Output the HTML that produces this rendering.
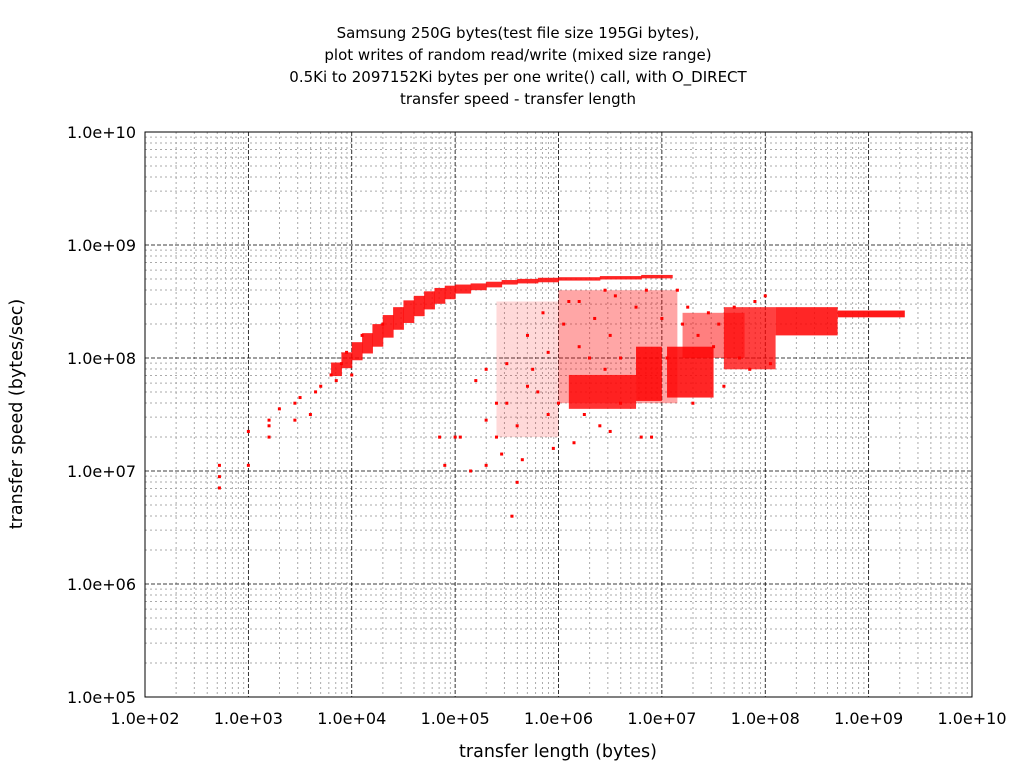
<!DOCTYPE html>
<html><head><meta charset="utf-8"><style>
body{margin:0;background:#fff;font-family:"DejaVu Sans","Liberation Sans",sans-serif;}
svg text{font-family:"DejaVu Sans","Liberation Sans",sans-serif;fill:#000;}
</style></head><body>
<svg id="chart" width="1024" height="768" xmlns="http://www.w3.org/2000/svg">
<g font-size="15" text-anchor="middle">
<text x="518" y="38">Samsung 250G bytes(test file size 195Gi bytes),</text>
<text x="518" y="60">plot writes of random read/write (mixed size range)</text>
<text x="518" y="82">0.5Ki to 2097152Ki bytes per one write() call, with O_DIRECT</text>
<text x="518" y="104">transfer speed - transfer length</text>
</g>
<g id="grid"></g>
<g id="marks"></g>
<rect x="145" y="132" width="827" height="565" fill="none" stroke="#000" stroke-width="1"/>
<g id="ticks" font-size="16"></g>
<text x="558" y="757" font-size="17.5" text-anchor="middle">transfer length (bytes)</text>
<text transform="translate(22,414) rotate(-90)" font-size="17.5" text-anchor="middle">transfer speed (bytes/sec)</text>
</svg>
<script>
const xTickLabels=["1.0e+02","1.0e+03","1.0e+04","1.0e+05","1.0e+06","1.0e+07","1.0e+08","1.0e+09","1.0e+10"];
const yTickLabels=["1.0e+05","1.0e+06","1.0e+07","1.0e+08","1.0e+09","1.0e+10"];
// upper band: segment start/end (log10 length), centre and half-thickness (log10 speed)
const bandX0=[3.8,3.9,4.0,4.1,4.2,4.3,4.4,4.5,4.6,4.7,4.8,4.9,5.0,5.15,5.3,5.45,5.6,5.8,6.0,6.4,6.8];
const bandX1=[3.9,4.0,4.1,4.2,4.3,4.4,4.5,4.6,4.7,4.8,4.9,5.0,5.15,5.3,5.45,5.6,5.8,6.0,6.4,6.8,7.1];
const bandC=[7.9,7.98,8.06,8.13,8.2,8.28,8.35,8.41,8.46,8.51,8.55,8.58,8.61,8.63,8.65,8.67,8.68,8.69,8.7,8.71,8.72];
const bandH=[0.06,0.07,0.08,0.09,0.1,0.1,0.1,0.1,0.09,0.08,0.07,0.06,0.04,0.03,0.025,0.02,0.02,0.02,0.015,0.015,0.015];
// dense regions (log10 units) and density
const blobX0=[5.4,6.0,6.1,6.75,7.05,7.2,7.6,8.1,8.7];
const blobX1=[6.0,7.15,6.75,7.0,7.5,7.8,8.1,8.7,9.35];
const blobY0=[7.3,7.6,7.55,7.62,7.65,8.0,7.9,8.2,8.36];
const blobY1=[8.5,8.6,7.85,8.1,8.1,8.4,8.45,8.45,8.42];
const blobDensity=[0.15,0.35,0.8,0.85,0.85,0.5,0.75,0.85,0.9];
// sparse points (log10 length, log10 speed)
const ptX=[2.72,2.72,2.72,3.0,3.0,3.2,3.2,3.2,3.3,3.45,3.45,3.5,3.6,3.65,3.7,3.8,3.85,3.9,4.0,3.95,4.1,4.3,5.0,5.05,5.15,5.3,5.55,5.6,5.4,5.4,5.5,5.6,5.7,5.75,5.8,5.9,5.95,6.0,5.9,6.05,6.1,6.2,6.25,6.3,6.35,6.4,6.45,6.5,6.55,6.6,6.6,6.75,6.8,6.85,7.0,7.05,7.15,7.2,7.25,7.3,7.35,7.45,7.5,7.55,7.6,7.7,7.75,7.85,7.9,8.0,8.05,5.2,5.3,5.5,5.7,5.85,6.15,6.5,5.65,6.9,6.2,6.45,4.85,4.9,5.3,5.45];
const ptY=[7.05,6.85,6.95,7.05,7.35,7.3,7.45,7.4,7.55,7.45,7.6,7.65,7.5,7.7,7.75,7.85,7.8,7.95,7.85,8.05,8.2,8.3,7.3,7.3,7.0,7.05,6.6,6.9,7.3,7.6,7.6,7.4,7.75,7.9,7.7,7.5,7.2,7.6,8.05,8.3,8.5,8.1,7.5,8.0,8.35,7.4,7.9,8.2,8.55,7.6,8.0,8.45,7.3,8.6,8.35,8.0,8.6,8.3,8.45,7.6,8.2,8.4,8.1,8.3,7.75,8.45,8.0,7.9,8.5,8.55,7.95,7.8,7.9,7.95,8.2,8.4,7.25,7.35,7.1,7.3,8.5,8.6,7.3,7.05,7.45,7.15];
const L=145,R=972,T=132,B=697;
const sx=l=>L+(l-2)/8*(R-L);
const sy=l=>B-(l-5)/5*(B-T);
const NS="http://www.w3.org/2000/svg";
function mk(tag,attrs,parent){const e=document.createElementNS(NS,tag);for(const k in attrs)e.setAttribute(k,attrs[k]);parent.appendChild(e);return e;}
const grid=document.getElementById('grid'),ticks=document.getElementById('ticks'),marks=document.getElementById('marks');
for(let d=2;d<10;d++){for(let m=2;m<10;m++){const x=sx(d+Math.log10(m));
const g=mk('line',{x1:x,x2:x,y1:T,y2:B,stroke:'#aaa','stroke-dasharray':'2,3'},grid);

}}
for(let d=5;d<10;d++){for(let m=2;m<10;m++){const y=sy(d+Math.log10(m));
const g=mk('line',{x1:L,x2:R,y1:y,y2:y,stroke:'#aaa','stroke-dasharray':'2,3'},grid);

}}
xTickLabels.forEach((t,i)=>{const x=sx(2+i);
const g=mk('line',{x1:x,x2:x,y1:T,y2:B,stroke:'#000','stroke-dasharray':'4,2','stroke-width':0.8},grid);


const tx=mk('text',{x:x,y:724,'text-anchor':'middle'},ticks);tx.textContent=t;

});
yTickLabels.forEach((t,i)=>{const y=sy(5+i);
const g=mk('line',{x1:L,x2:R,y1:y,y2:y,stroke:'#000','stroke-dasharray':'4,2','stroke-width':0.8},grid);


const tx=mk('text',{x:136,y:y+6,'text-anchor':'end'},ticks);tx.textContent=t;

});
bandX0.forEach((x0,i)=>{const r=mk('rect',{x:sx(x0),y:sy(bandC[i]+bandH[i]),width:sx(bandX1[i])-sx(x0)+0.5,height:sy(bandC[i]-bandH[i])-sy(bandC[i]+bandH[i]),fill:'#f00','fill-opacity':0.85},marks);

});
blobX0.forEach((x0,i)=>{const r=mk('rect',{x:sx(x0),y:sy(blobY1[i]),width:sx(blobX1[i])-sx(x0),height:sy(blobY0[i])-sy(blobY1[i]),fill:'#f00','fill-opacity':blobDensity[i]},marks);

});
ptX.forEach((x,i)=>{const p=mk('rect',{x:sx(x)-1.5,y:sy(ptY[i])-1.5,width:3,height:3,fill:'#f00'},marks);

});
</script>
</body></html>
